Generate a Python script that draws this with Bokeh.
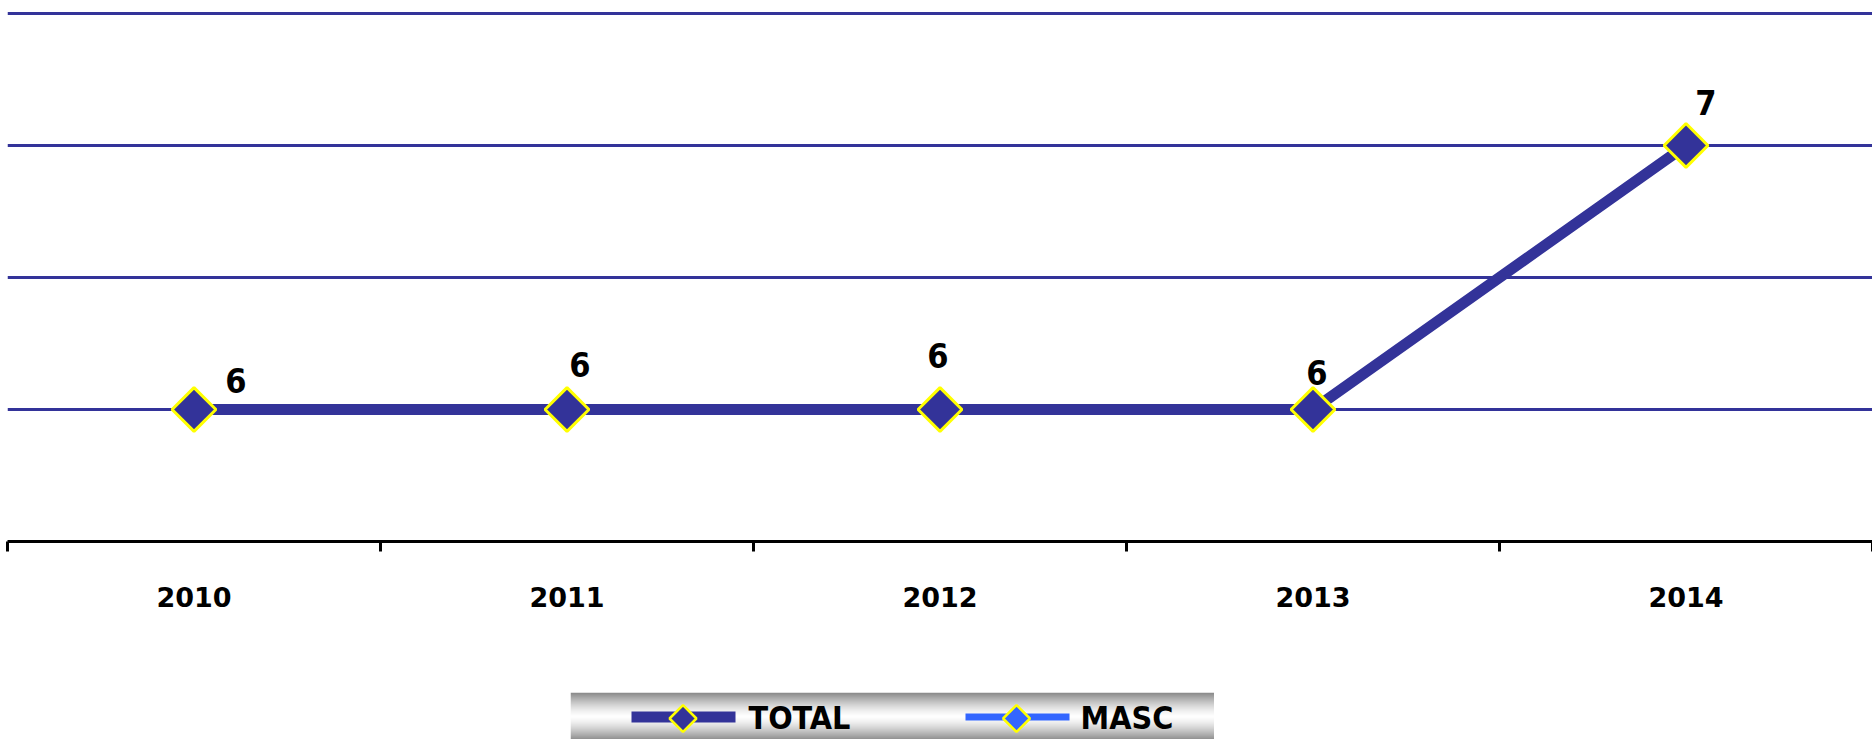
import numpy as np
from bokeh.plotting import figure
from bokeh.models import (ColumnDataSource, FactorRange, Range1d, LinearAxis, CategoricalAxis,
                          FixedTicker, SingleIntervalTicker, Grid, Spacer)
from bokeh.layouts import column, row
from bokeh.core.properties import value
from bokeh.embed import file_html
from bokeh.resources import INLINE

# ---------------- data ----------------
years = ["2010", "2011", "2012", "2013", "2014"]
total = [6, 6, 6, 6, 7]
masc = [6, 6, 6, 6, 7]
series_names = ["TOTAL", "MASC"]

# ---------------- style ----------------
NAVY = "#333399"
BLUE = "#3366FF"
YELLOW = "#FFFF00"
COND_FONT = "DejaVu Sans Condensed, Liberation Sans, sans-serif"
# per-label screen offsets (px) of the value labels relative to their point
label_dx = [42, 13, -2, 4, 20]
label_dy = [-29, -45, -54, -37, -43]

src = ColumnDataSource(dict(year=years, total=total, masc=masc,
                            label=[str(v) for v in total],
                            dx=label_dx, dy=label_dy))

p = figure(width=1872, height=692,
           x_range=FactorRange(factors=years), y_range=Range1d(5.5, 7.515),
           output_backend="svg", toolbar_location=None,
           x_axis_location=None, y_axis_location=None,
           min_border_left=7, min_border_right=0, min_border_top=9, min_border_bottom=151)
p.outline_line_color = None
p.background_fill_color = "white"
p.border_fill_color = "white"
for g in p.grid:
    g.visible = False

p.add_layout(Grid(dimension=1, ticker=SingleIntervalTicker(interval=0.5),
                  grid_line_color=NAVY, grid_line_width=3))

p.line("year", "masc", source=src, line_color=BLUE, line_width=6)
p.line("year", "total", source=src, line_color=NAVY, line_width=11)
p.scatter("year", "total", source=src, marker="square", angle=np.pi / 4, size=31,
          fill_color=NAVY, line_color=YELLOW, line_width=3)
p.text("year", "total", text="label", source=src, x_offset="dx", y_offset="dy",
       text_align="center", text_baseline="middle",
       text_font=value(COND_FONT), text_font_style="bold",
       text_font_size="34px", text_color="black")

# ticks at the category boundaries (synthetic coordinates 0..n)
ticks = list(range(len(years) + 1))
tick_axis = LinearAxis(ticker=FixedTicker(ticks=ticks),
                       axis_line_color="black", axis_line_width=3,
                       major_tick_line_color="black", major_tick_line_width=3,
                       major_tick_in=0, major_tick_out=10,
                       minor_tick_line_color=None,
                       major_label_overrides={t: "" for t in ticks},
                       major_label_text_font_size="1px", major_label_standoff=0)
p.add_layout(tick_axis, "below")

cat_axis = CategoricalAxis(axis_line_color=None, major_tick_line_color=None,
                           minor_tick_line_color=None,
                           major_label_text_font="DejaVu Sans",
                           major_label_text_font_style="bold",
                           major_label_text_font_size="27px",
                           major_label_text_color="black",
                           major_label_standoff=29)
p.add_layout(cat_axis, "below")

# ---------------- legend panel ----------------
LW, LH = 644, 47
lg = figure(width=LW, height=LH, x_range=Range1d(0, LW), y_range=Range1d(0, LH),
            output_backend="svg", toolbar_location=None,
            x_axis_location=None, y_axis_location=None, min_border=0)
lg.outline_line_color = None
for g in lg.grid:
    g.visible = False

# vertical grey-white-grey gradient (row 0 = bottom)
d = np.arange(LH)[::-1] + 0.5          # distance from top for each row (bottom first)
lvl = 255 - 120 * (np.abs(d - 24) / 24.0) ** 1.4
lvl = np.clip(lvl, 0, 255).astype(np.uint8)
img = np.empty((LH, 2), dtype=np.uint32)
view = img.view(dtype=np.uint8).reshape((LH, 2, 4))
view[:, :, 0] = lvl[:, None]
view[:, :, 1] = lvl[:, None]
view[:, :, 2] = lvl[:, None]
view[:, :, 3] = 255
lg.image_rgba(image=[img], x=0, y=0, dw=LW, dh=LH)

leg_layout = dict(line_x=[(61, 165), (395, 499)], marker_x=[112.5, 446], text_x=[178, 510],
                  line_y=22.5, marker_y=21, text_y=22)
leg_colors = [NAVY, BLUE]
leg_widths = [11, 7]
for i, name in enumerate(series_names):
    x0, x1 = leg_layout["line_x"][i]
    lg.line([x0, x1], [leg_layout["line_y"]] * 2, line_color=leg_colors[i], line_width=leg_widths[i])
    lg.scatter([leg_layout["marker_x"][i]], [leg_layout["marker_y"]], marker="square",
               angle=np.pi / 4, size=19, fill_color=leg_colors[i], line_color=YELLOW, line_width=2.5)
    lg.text([leg_layout["text_x"][i]], [leg_layout["text_y"]], text=[name],
            text_align="left", text_baseline="middle",
            text_font=value(COND_FONT), text_font_style="bold",
            text_font_size="32px", text_color="black")

layout = column(p, row(Spacer(width=570, height=LH), lg))
open("out.html", "w").write(file_html(layout, INLINE))
